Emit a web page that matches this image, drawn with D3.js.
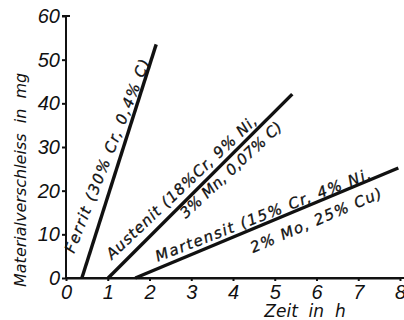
<!DOCTYPE html>
<meta charset="utf-8" />
<style>
  body { margin: 0; background: #fff; }
  svg text { font-family: "DejaVu Sans", sans-serif; font-style: italic; fill: #111; }
  .axis text { font-family: "Liberation Sans", Arial, sans-serif; }
  .axis path, .axis line { stroke: #111; stroke-width: 2px; }
  .wear { stroke: #111; stroke-width: 3.4px; stroke-linecap: butt; fill: none; }
  .note { stroke: #111; stroke-width: 0.3px; }
</style>
<svg width="404" height="320"></svg>
<script src="https://d3js.org/d3.v7.min.js"></script>
<script>
  // values
  var xTicks = [0, 1, 2, 3, 4, 5, 6, 7, 8];
  var yTicks = [0, 10, 20, 30, 40, 50, 60];
  var steels = ["Ferrit", "Austenit", "Martensit"];
  var startTime = [0.38, 1.01, 1.66];   // h where wear begins
  var endTime = [2.16, 5.42, 7.96];     // h at end of line
  var endWear = [53.5, 42.1, 25.2];     // mg at end of line

  // label texts along the lines, with the start / end of their baseline in data units
  var labelText = ["Ferrit (30% Cr, 0,4% C)", "Austenit (18%Cr, 9% Ni,", "3% Mn, 0,07% C)",
                   "Martensit (15% Cr, 4% Ni,", "2% Mo, 25% Cu)"];
  var labelFrom = [[0.19, 5.5], [1.10, 4.1], [2.87, 13.5], [2.20, 3.7], [4.48, 5.7]];
  var labelTo = [[2.01, 49.5], [4.60, 35.7], [5.20, 34.3], [7.33, 22.9], [7.59, 18.5]];

  var svg = d3.select("svg");

  var x = d3.scaleLinear().domain([0, 8]).range([66, 400]);
  var y = d3.scaleLinear().domain([0, 60]).range([278, 16]);

  // y axis
  var gy = svg.append("g")
    .attr("class", "axis")
    .attr("transform", "translate(" + x(0) + ",0)")
    .call(d3.axisLeft(y).tickValues(yTicks).tickSize(4).tickSizeOuter(0));
  gy.selectAll("text")
    .attr("x", -6)
    .attr("font-size", 20)
    .attr("font-family", null);
  gy.select(".domain").remove();
  gy.append("line").attr("x1", 0).attr("x2", 0).attr("y1", y(0) + 1).attr("y2", y(60) - 1);
  // the little cross bar at the top
  gy.append("line")
    .attr("x1", -4).attr("x2", 4)
    .attr("y1", y(60)).attr("y2", y(60));

  // x axis
  var gx = svg.append("g")
    .attr("class", "axis")
    .attr("transform", "translate(0," + y(0) + ")")
    .call(d3.axisBottom(x).tickValues(xTicks).tickSize(3).tickSizeOuter(0));
  gx.selectAll("text")
    .attr("y", 3)
    .attr("dy", "0.9em")
    .attr("font-size", 20)
    .attr("font-family", null);
  gx.append("line").attr("x1", x(0) - 1).attr("x2", 404).attr("y1", 0).attr("y2", 0);

  // axis titles
  svg.append("text")
    .attr("transform", "translate(26,287) rotate(-90)")
    .attr("font-size", 16)
    .style("white-space", "pre")
    .text("Materialverschleiss  in  mg");

  svg.append("text")
    .attr("x", 305)
    .attr("y", 317)
    .attr("text-anchor", "middle")
    .attr("font-size", 17)
    .style("white-space", "pre")
    .text("Zeit  in  h");

  // wear lines
  svg.append("g").selectAll("line")
    .data(steels)
    .enter()
    .append("line")
    .attr("class", "wear")
    .attr("x1", function (d, i) { return x(startTime[i]); })
    .attr("y1", y(0))
    .attr("x2", function (d, i) { return x(endTime[i]); })
    .attr("y2", function (d, i) { return y(endWear[i]); });

  // labels along the lines
  svg.append("g").selectAll("text")
    .data(labelText)
    .enter()
    .append("text")
    .attr("class", "note")
    .attr("font-size", 15)
    .attr("transform", function (d, i) {
      var x0 = x(labelFrom[i][0]), y0 = y(labelFrom[i][1]);
      var x1 = x(labelTo[i][0]), y1 = y(labelTo[i][1]);
      var a = Math.atan2(y1 - y0, x1 - x0) * 180 / Math.PI;
      return "translate(" + x0 + "," + y0 + ") rotate(" + a + ")";
    })
    .attr("textLength", function (d, i) {
      var dx = x(labelTo[i][0]) - x(labelFrom[i][0]);
      var dy = y(labelTo[i][1]) - y(labelFrom[i][1]);
      return Math.sqrt(dx * dx + dy * dy);
    })
    .attr("lengthAdjust", "spacing")
    .text(function (d) { return d; });
</script>
